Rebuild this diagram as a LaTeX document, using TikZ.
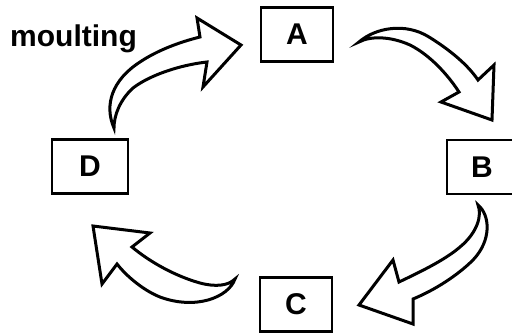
\documentclass[tikz,border=0pt]{standalone}
\usepackage{fontspec}
\setmainfont{Liberation Sans}
\begin{document}
\begin{tikzpicture}[x=1pt,y=-1pt,
  box/.style={draw, line width=2.8pt, minimum width=72pt, minimum height=54pt, inner sep=0pt, font=\fontsize{30}{30}\selectfont\bfseries},
  bigarrow/.style={draw, fill=white, line width=3pt, line join=miter}]
\useasboundingbox (0,0) rectangle (512,334);
\node[box] (A) at (297,34.5) {A};
\node[box, minimum width=70pt] (B) at (482,167) {B};
\node[box] (C) at (296,304.5) {C};
\node[box, minimum width=76pt] (D) at (90,166.5) {D};
\node[font=\fontsize{30}{30}\selectfont\bfseries, anchor=base west, inner sep=0pt] (m) at (10,47) {moulting};
% D -> A
\draw[bigarrow] (114,128) .. controls (104,105) and (112,80) .. (140,62)
  .. controls (158,50) and (180,42) .. (200,37)
  -- (197,18) -- (241,45) -- (203,87) -- (207,62)
  .. controls (180,65) and (150,75) .. (133,88)
  .. controls (120,100) and (114,115) .. cycle;
% A -> B
\draw[bigarrow] (359,42) .. controls (375,28) and (405,22) .. (429,37)
  .. controls (450,50) and (468,65) .. (478,80)
  -- (494,65) -- (492,120) -- (441,102) -- (459,92)
  .. controls (448,75) and (430,55) .. (410,45)
  .. controls (390,36) and (370,36) .. cycle;
% B -> C
\draw[bigarrow] (478,205) .. controls (490,215) and (492,240) .. (473,260)
  .. controls (458,275) and (435,290) .. (413,299)
  -- (413,324) -- (359,305) -- (393,260) -- (399,282)
  .. controls (420,272) and (445,260) .. (460,247)
  .. controls (478,232) and (482,215) .. cycle;
% C -> D
\draw[bigarrow] (235,279) .. controls (228,298) and (195,310) .. (160,297)
  .. controls (145,291) and (128,278) .. (117,264)
  -- (102,284) -- (93,226) -- (150,233) -- (132,247)
  .. controls (150,262) and (175,276) .. (200,283)
  .. controls (215,287) and (228,286) .. cycle;
\end{tikzpicture}
\end{document}
